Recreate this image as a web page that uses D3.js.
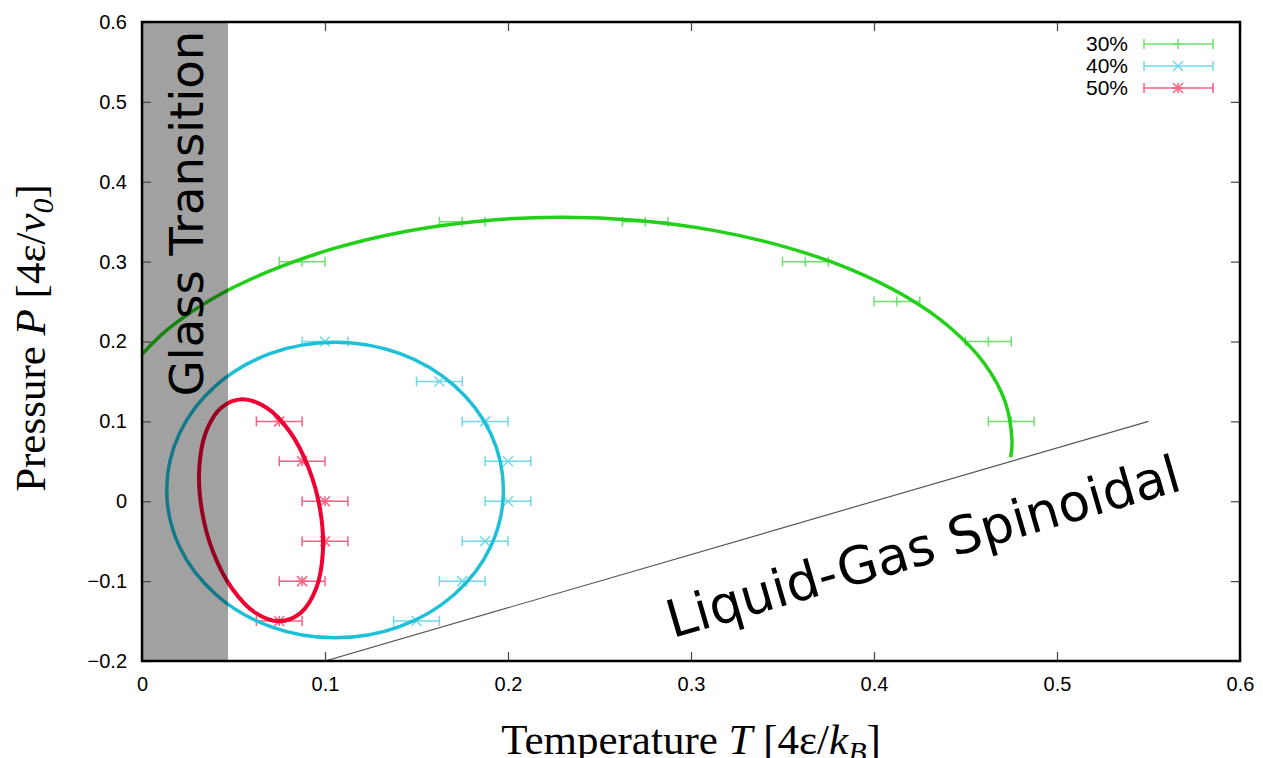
<!DOCTYPE html>
<html>
<head>
<meta charset="utf-8">
<script src="https://cdn.jsdelivr.net/npm/d3@7"></script>
<style>
  body { margin: 0; background: #fff; }
  svg { display: block; }
</style>
</head>
<body>
<div id="chart"></div>
<script>
// measured points (T, P) per concentration
const series = ["30%", "40%", "50%"];
const temps30 = [0.0875, 0.175, 0.275, 0.3625, 0.4125, 0.4625, 0.475];
const press30 = [0.30, 0.35, 0.35, 0.30, 0.25, 0.20, 0.10];
const temps40 = [0.1, 0.1625, 0.1875, 0.2, 0.2, 0.1875, 0.175, 0.15];
const press40 = [0.2, 0.15, 0.1, 0.05, 0, -0.05, -0.1, -0.15];
const temps50 = [0.075, 0.0875, 0.1, 0.1, 0.0875, 0.075];
const press50 = [0.1, 0.05, 0, -0.05, -0.1, -0.15];
const tErr = 0.0125;

// fitted curves
const fit30T = [0, 0.0145, 0.0392, 0.0696, 0.1049, 0.1439, 0.1855, 0.2284, 0.2713, 0.3129, 0.3519, 0.3872, 0.4176, 0.4423, 0.4605, 0.4716, 0.4754, 0.4747];
const fit30P = [0.1841, 0.2160, 0.2545, 0.2880, 0.3165, 0.3378, 0.3510, 0.3556, 0.3514, 0.3388, 0.3182, 0.2903, 0.2559, 0.2160, 0.1719, 0.1249, 0.0764, 0.0550];
const fit40T = [0.1975, 0.1905, 0.1705, 0.1407, 0.1055, 0.0703, 0.0405, 0.0205, 0.0135, 0.0205, 0.0405, 0.0703, 0.1055, 0.1407, 0.1705, 0.1905];
const fit40P = [0.014, 0.085, 0.145, 0.185, 0.199, 0.185, 0.145, 0.085, 0.014, -0.057, -0.117, -0.157, -0.171, -0.157, -0.117, -0.057];
const fit50T = [0.0751, 0.0867, 0.0951, 0.0988, 0.0974, 0.0910, 0.0808, 0.0681, 0.0549, 0.0433, 0.0350, 0.0313, 0.0327, 0.0390, 0.0493, 0.0620];
const fit50P = [-0.1502, -0.1397, -0.1095, -0.0645, -0.0113, 0.0419, 0.0870, 0.1171, 0.1277, 0.1171, 0.0870, 0.0419, -0.0113, -0.0645, -0.1095, -0.1397];

const spinT = [0.1, 0.55];
const spinP = [-0.2, 0.1];
const glassT = 0.047;

const xTicks = [0, 0.1, 0.2, 0.3, 0.4, 0.5, 0.6];
const yTicks = [-0.2, -0.1, 0, 0.1, 0.2, 0.3, 0.4, 0.5, 0.6];

const curveColors = ["#22d01a", "#1ec0d8", "#f00032"];
const barColors = ["#70e070", "#70d8e8", "#fa6080"];

var margin = {left: 142, top: 22, right: 23, bottom: 97};
var W = 1263, H = 758;
var width = W - margin.left - margin.right;
var height = H - margin.top - margin.bottom;

const svg = d3.select("#chart").append("svg")
  .attr("width", W)
  .attr("height", H);

const x = d3.scaleLinear().domain([0, 0.6]).range([margin.left, margin.left + width]);
const y = d3.scaleLinear().domain([-0.2, 0.6]).range([margin.top + height, margin.top]);

svg.append("defs").append("clipPath").attr("id", "plot")
  .append("rect")
  .attr("x", margin.left).attr("y", margin.top)
  .attr("width", width).attr("height", height);

const plot = svg.append("g").attr("clip-path", "url(#plot)");

// error bars + markers
function drawPoints(ts, ps, i) {
  const g = plot.append("g")
    .attr("stroke", barColors[i])
    .attr("stroke-width", 1.5)
    .attr("fill", "none");
  ts.forEach(function(t, k) {
    const cy = y(ps[k]), x0 = x(t - tErr), x1 = x(t + tErr), cx = x(t);
    g.append("line").attr("x1", x0).attr("x2", x1).attr("y1", cy).attr("y2", cy);
    g.append("line").attr("x1", x0).attr("x2", x0).attr("y1", cy - 5).attr("y2", cy + 5);
    g.append("line").attr("x1", x1).attr("x2", x1).attr("y1", cy - 5).attr("y2", cy + 5);
    drawMarker(g, cx, cy, i);
  });
}

function drawMarker(g, cx, cy, i) {
  const s = 5;
  if (i == 0 || i == 2) {
    g.append("line").attr("x1", cx).attr("x2", cx).attr("y1", cy - s).attr("y2", cy + s);
    g.append("line").attr("x1", cx - s).attr("x2", cx + s).attr("y1", cy).attr("y2", cy);
  }
  if (i == 1 || i == 2) {
    g.append("line").attr("x1", cx - s).attr("x2", cx + s).attr("y1", cy - s).attr("y2", cy + s);
    g.append("line").attr("x1", cx - s).attr("x2", cx + s).attr("y1", cy + s).attr("y2", cy - s);
  }
}

drawPoints(temps30, press30, 0);
drawPoints(temps40, press40, 1);
drawPoints(temps50, press50, 2);

// fitted curves
const openLine = d3.line().x(d => x(d[0])).y(d => y(d[1])).curve(d3.curveCatmullRom);
const closedLine = d3.line().x(d => x(d[0])).y(d => y(d[1])).curve(d3.curveCatmullRomClosed);

plot.append("path")
  .attr("d", openLine(d3.zip(fit30T, fit30P)))
  .attr("fill", "none").attr("stroke", curveColors[0]).attr("stroke-width", 3.5);
plot.append("path")
  .attr("d", closedLine(d3.zip(fit40T, fit40P)))
  .attr("fill", "none").attr("stroke", curveColors[1]).attr("stroke-width", 3.5);
plot.append("path")
  .attr("d", closedLine(d3.zip(fit50T, fit50P)))
  .attr("fill", "none").attr("stroke", curveColors[2]).attr("stroke-width", 4);

// spinodal line
plot.append("line")
  .attr("x1", x(spinT[0])).attr("y1", y(spinP[0]))
  .attr("x2", x(spinT[1])).attr("y2", y(spinP[1]))
  .attr("stroke", "#555").attr("stroke-width", 1.2);

// glass transition band (darkens what is under it)
plot.append("rect")
  .attr("x", x(0)).attr("y", margin.top)
  .attr("width", x(glassT) - x(0)).attr("height", height)
  .attr("fill", "#000").attr("fill-opacity", 0.37);

svg.append("text")
  .attr("transform", "translate(203,213.5) rotate(-90)")
  .attr("text-anchor", "middle")
  .style("font-family", "DejaVu Sans")
  .style("font-size", "46.5px")
  .attr("fill", "#000")
  .text("Glass Transition");

const ang = Math.atan2(y(spinP[1]) - y(spinP[0]), x(spinT[1]) - x(spinT[0])) * 180 / Math.PI;
svg.append("text")
  .attr("transform", "translate(928,564) rotate(" + ang + ")")
  .attr("text-anchor", "middle")
  .style("font-family", "DejaVu Sans")
  .style("font-size", "52px")
  .attr("fill", "#000")
  .text("Liquid-Gas Spinoidal");

// axes
const fmt = d => d3.format(".1f")(d).replace("-", "\u2212").replace(/^0\.0$/, "0").replace(/^\u22120\.0$/, "0");
const fmtX = d => d == 0 ? "0" : d3.format(".1f")(d);

svg.append("g")
  .attr("transform", "translate(0," + (margin.top + height) + ")")
  .call(d3.axisBottom(x).tickValues(xTicks).tickSize(-9).tickPadding(16).tickFormat(fmtX));
svg.append("g")
  .attr("transform", "translate(" + margin.left + ",0)")
  .call(d3.axisLeft(y).tickValues(yTicks).tickSize(-9).tickPadding(15).tickFormat(fmt));
svg.append("g")
  .attr("transform", "translate(0," + margin.top + ")")
  .call(d3.axisTop(x).tickValues(xTicks).tickSize(-9).tickFormat(""));
svg.append("g")
  .attr("transform", "translate(" + (margin.left + width) + ",0)")
  .call(d3.axisRight(y).tickValues(yTicks).tickSize(-9).tickFormat(""));

svg.selectAll(".domain").remove();
svg.selectAll(".tick line").attr("stroke", "#444").attr("stroke-width", 1.2);
svg.selectAll(".tick text")
  .style("font-family", "Liberation Sans")
  .style("font-size", "20px")
  .attr("fill", "#000");

// frame
svg.append("rect")
  .attr("x", margin.left).attr("y", margin.top)
  .attr("width", width).attr("height", height)
  .attr("fill", "none").attr("stroke", "#000").attr("stroke-width", 2.5);

// axis titles
const xTitle = svg.append("text")
  .attr("x", 691).attr("y", 754)
  .attr("text-anchor", "middle")
  .style("font-family", "Liberation Serif")
  .style("font-size", "43px");
xTitle.append("tspan").text("Temperature ");
xTitle.append("tspan").style("font-style", "italic").text("T");
xTitle.append("tspan").text(" [4\u03b5/");
xTitle.append("tspan").style("font-style", "italic").text("k");
xTitle.append("tspan").style("font-style", "italic").style("font-size", "30px").attr("dy", 8).text("B");
xTitle.append("tspan").attr("dy", -8).text("]");

const yTitle = svg.append("text")
  .attr("transform", "translate(45,338) rotate(-90)")
  .attr("text-anchor", "middle")
  .style("font-family", "Liberation Serif")
  .style("font-size", "43px");
yTitle.append("tspan").text("Pressure ");
yTitle.append("tspan").style("font-style", "italic").text("P");
yTitle.append("tspan").text(" [4\u03b5/");
yTitle.append("tspan").style("font-style", "italic").text("v");
yTitle.append("tspan").style("font-style", "italic").style("font-size", "30px").attr("dy", 8).text("0");
yTitle.append("tspan").attr("dy", -8).text("]");

// legend
const legend = svg.append("g");
series.forEach(function(name, i) {
  const ly = 44 + i * 22;
  legend.append("text")
    .attr("x", 1128).attr("y", ly).attr("dy", "0.35em")
    .attr("text-anchor", "end")
    .style("font-family", "Liberation Sans")
    .style("font-size", "21px")
    .text(name);
  const g = legend.append("g").attr("stroke", barColors[i]).attr("stroke-width", 1.5);
  g.append("line").attr("x1", 1144).attr("x2", 1213).attr("y1", ly).attr("y2", ly);
  g.append("line").attr("x1", 1144).attr("x2", 1144).attr("y1", ly - 5).attr("y2", ly + 5);
  g.append("line").attr("x1", 1213).attr("x2", 1213).attr("y1", ly - 5).attr("y2", ly + 5);
  drawMarker(g, 1178, ly, i);
});
</script>
</body>
</html>
